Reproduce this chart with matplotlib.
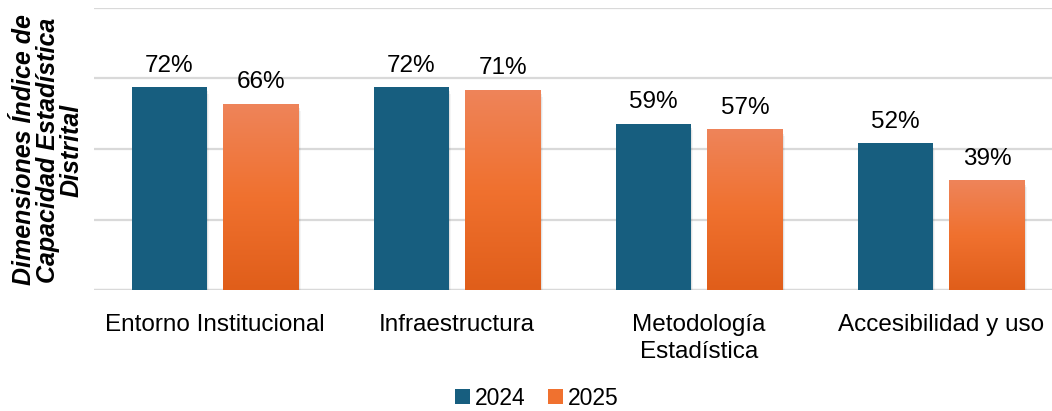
import matplotlib
matplotlib.use("Agg")
import matplotlib.pyplot as plt
import numpy as np
from matplotlib.colors import LinearSegmentedColormap
from matplotlib.patches import Rectangle, Patch

categories = ["Entorno Institucional", "Infraestructura", "Metodología\nEstadística", "Accesibilidad y uso"]
years = ["2024", "2025"]
values_2024 = [72, 72, 59, 52]
values_2025 = [66, 71, 57, 39]

blue = "#175E7F"
orange_top = "#EE845A"
orange_mid = "#F0712F"
orange_bot = "#E05E1A"
orange_cmap = LinearSegmentedColormap.from_list("og", [orange_bot, orange_mid, orange_top])

plt.rcParams["font.family"] = ["Liberation Sans", "DejaVu Sans"]
FS = 17.5

fig = plt.figure(figsize=(10.52, 4.11), dpi=100)
W, H = 1052, 411
ax = fig.add_axes([94 / W, (H - 290) / H, 968 / W, 282 / H])
ax.set_xlim(-0.5, 3.5)
ax.set_ylim(0, 100)

x = np.arange(len(categories))
bw = 0.31
off = 0.19

for spine in ax.spines.values():
    spine.set_visible(False)
ax.set_yticks([0, 25, 50, 75, 100])
ax.yaxis.grid(True, color="#D9D9D9", linewidth=1.6)
ax.set_axisbelow(True)
ax.tick_params(axis="y", left=False, labelleft=False)
ax.tick_params(axis="x", bottom=False, labelsize=FS, pad=14)
ax.set_xticks(x)
ax.set_xticklabels(categories, linespacing=1.25)
ax.axhline(0, color="#D9D9D9", linewidth=1.6, zorder=1)

gradient = np.linspace(0, 1, 256).reshape(-1, 1)

def shadow(xl, h):
    for i, a in enumerate([0.10, 0.07, 0.04]):
        d = 0.006 * (i + 1)
        ax.add_patch(Rectangle((xl + d * 0.6, -0.8 * (i + 1)), bw, h, facecolor="black",
                               alpha=a, linewidth=0, zorder=2))

for i in x:
    # 2024 bars
    xl = i - off - bw / 2
    shadow(xl, values_2024[i])
    ax.bar(i - off, values_2024[i], width=bw, color=blue, zorder=3)
    ax.annotate(f"{values_2024[i]}%", (i - off, values_2024[i]), xytext=(0, 7.5),
                textcoords="offset points", ha="center", va="bottom", fontsize=FS)
    # 2025 bars with vertical gradient
    xl = i + off - bw / 2
    shadow(xl, values_2025[i])
    b = ax.bar(i + off, values_2025[i], width=bw, color="none", zorder=3)[0]
    im = ax.imshow(gradient, cmap=orange_cmap, aspect="auto", origin="lower",
                   extent=[xl, xl + bw, 0, values_2025[i]], zorder=3.1)
    im.set_clip_path(b)
    ax.annotate(f"{values_2025[i]}%", (i + off, values_2025[i]), xytext=(0, 7.5),
                textcoords="offset points", ha="center", va="bottom", fontsize=FS)

ax.set_xlim(-0.5, 3.5)
ax.set_ylim(0, 100)

fig.text(48 / W, (H - 150) / H, "Dimensiones Índice de\nCapacidad Estadística\nDistrital",
         rotation=90, ha="center", va="center", fontsize=18, fontweight="bold",
         fontstyle="italic", linespacing=1.0)

handles = [Patch(facecolor=blue, label=years[0]), Patch(facecolor=orange_mid, label=years[1])]
fig.legend(handles=handles, loc="center", bbox_to_anchor=(537 / W, (H - 398) / H), ncol=2,
           frameon=False, fontsize=16.5, handlelength=0.65, handleheight=0.65,
           handletextpad=0.2, columnspacing=1.0, borderpad=0.1)

fig.savefig("out.png", dpi=100)
